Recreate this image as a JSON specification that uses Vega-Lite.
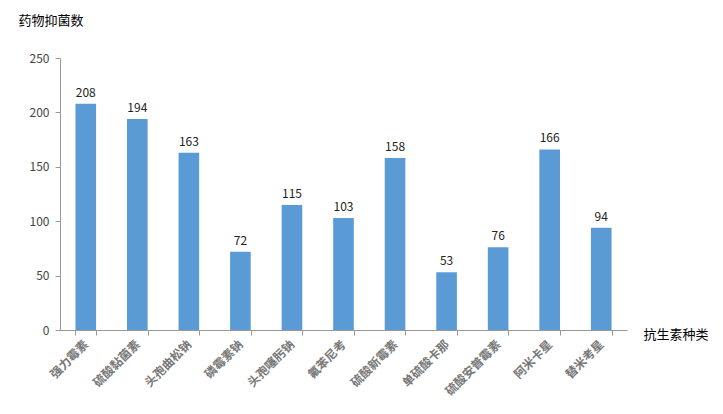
{
  "$schema": "https://vega.github.io/schema/vega-lite/v6.json",
  "width": 567,
  "height": 272,
  "autosize": {"type": "none"},
  "padding": {"left": 60, "top": 58, "right": 96, "bottom": 84},
  "background": "white",
  "config": {"view": {"stroke": null}, "font": "Noto Sans CJK SC"},
  "data": {"values": [
    {"drug": "强力霉素", "n": 208},
    {"drug": "硫酸黏菌素", "n": 194},
    {"drug": "头孢曲松钠", "n": 163},
    {"drug": "磷霉素钠", "n": 72},
    {"drug": "头孢噻肟钠", "n": 115},
    {"drug": "氟苯尼考", "n": 103},
    {"drug": "硫酸新霉素", "n": 158},
    {"drug": "单硫酸卡那", "n": 53},
    {"drug": "硫酸安普霉素", "n": 76},
    {"drug": "阿米卡星", "n": 166},
    {"drug": "替米考星", "n": 94}
  ]},
  "encoding": {
    "x": {"field": "drug", "type": "nominal", "sort": null,
      "scale": {"paddingInner": 0.6, "paddingOuter": 0.3},
      "axis": {"title": "抗生素种类", "titleX": 583, "titleY": 4, "titleAlign": "left", "titleBaseline": "middle", "titleFontSize": 13, "titleFontWeight": "normal", "titleColor": "#000",
        "labelAngle": -45, "labelAlign": "right", "labelBaseline": "middle", "labelFontSize": 12, "labelFontWeight": "bold", "labelColor": "#777", "labelPadding": 7,
        "domainColor": "#999", "tickColor": "#999", "tickBand": "extent", "tickSize": 5}},
    "y": {"field": "n", "type": "quantitative",
      "scale": {"domain": [0, 250]},
      "axis": {"title": "药物抑菌数", "titleAngle": 0, "titleX": -42, "titleY": -38, "titleAlign": "left", "titleBaseline": "middle", "titleFontSize": 13, "titleFontWeight": "normal", "titleColor": "#000",
        "values": [0, 50, 100, 150, 200, 250], "grid": false, "labelFontSize": 12, "labelColor": "#444", "labelPadding": 6,
        "domainColor": "#999", "tickColor": "#999", "tickSize": 5}}
  },
  "layer": [
    {"mark": {"type": "bar", "color": "#5B9BD5"}},
    {"mark": {"type": "text", "dy": -11, "fontSize": 12, "color": "#222"}, "encoding": {"text": {"field": "n", "type": "quantitative"}}}
  ]
}
